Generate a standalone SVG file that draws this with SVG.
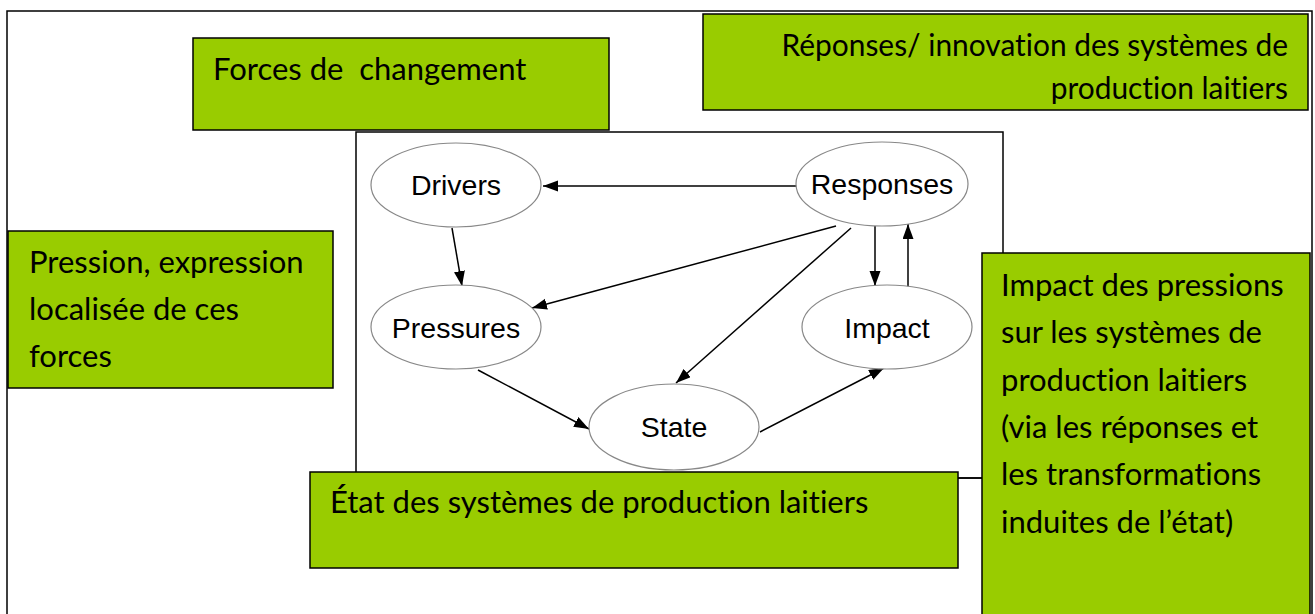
<svg xmlns="http://www.w3.org/2000/svg" width="1315" height="614" viewBox="0 0 1315 614">
<style>
.frame{fill:none;stroke:#000;stroke-width:1.5}
.box{fill:#99cc00;stroke:#000;stroke-width:1.5}
.ell{fill:#fff;stroke:#888;stroke-width:1.2}
.elabel{font-family:"Liberation Sans",Arial,sans-serif;font-size:28.5px;fill:#000;text-anchor:middle}
.blabel{font-family:Lato,"Liberation Sans",sans-serif;font-size:31px;fill:#000;white-space:pre;font-variant-ligatures:none;font-feature-settings:"liga" 0,"dlig" 0}
.rlabel{font-family:Lato,"Liberation Sans",sans-serif;font-size:29.9px;fill:#000;text-anchor:end;font-variant-ligatures:none;font-feature-settings:"liga" 0,"dlig" 0}
.conn{stroke:#000;stroke-width:1.5;fill:none;marker-end:url(#ah)}
</style>
<defs>
<marker id="ah" markerUnits="userSpaceOnUse" markerWidth="16" markerHeight="12" refX="15" refY="5.5" orient="auto">
<path d="M0,0 L15,5.5 L0,11 Z" fill="#000"/>
</marker>
</defs>
<rect width="1315" height="614" fill="#fff"/>
<g id="outer-frame"><rect class="frame" x="7" y="11" width="1305" height="610"/></g>
<g id="inner-frame"><rect class="frame" x="356" y="132" width="647" height="346"/></g>
<g id="connectors">
<line class="conn" x1="797" y1="186" x2="543" y2="186"/>
<line class="conn" x1="452" y1="228" x2="462" y2="286"/>
<line class="conn" x1="836" y1="226" x2="532" y2="308"/>
<line class="conn" x1="851" y1="228" x2="676" y2="383"/>
<line class="conn" x1="875" y1="226" x2="875" y2="286"/>
<line class="conn" x1="908" y1="288" x2="908" y2="224"/>
<line class="conn" x1="478" y1="370" x2="589" y2="429"/>
<line class="conn" x1="760" y1="432" x2="884" y2="368"/>
</g>
<g id="drivers"><ellipse class="ell" cx="456" cy="185" rx="85" ry="42"/><text class="elabel" x="456" y="195">Drivers</text></g>
<g id="responses"><ellipse class="ell" cx="882" cy="184" rx="86" ry="42"/><text class="elabel" x="882" y="194">Responses</text></g>
<g id="pressures"><ellipse class="ell" cx="456" cy="327" rx="85" ry="42"/><text class="elabel" x="456" y="338">Pressures</text></g>
<g id="impact"><ellipse class="ell" cx="887" cy="327" rx="85" ry="42"/><text class="elabel" x="887" y="338">Impact</text></g>
<g id="state"><ellipse class="ell" cx="674" cy="427" rx="85" ry="43"/><text class="elabel" x="674" y="437">State</text></g>
<g id="forces-box"><rect class="box" x="193" y="38" width="416" height="92"/><text class="blabel" x="213" y="80">Forces de  changement</text></g>
<g id="reponses-box"><rect class="box" x="703" y="14" width="605" height="96"/>
<text class="rlabel" x="1288" y="56">Réponses/ innovation des systèmes de</text>
<text class="rlabel" x="1288" y="99">production laitiers</text></g>
<g id="pression-box"><rect class="box" x="8" y="231" width="325" height="157"/>
<text class="blabel" x="29" y="273">Pression, expression</text>
<text class="blabel" x="29" y="320">localisée de ces</text>
<text class="blabel" x="29" y="367">forces</text></g>
<g id="etat-box"><rect class="box" x="310" y="472" width="648" height="96"/>
<text class="blabel" x="330" y="513">État des systèmes de production laitiers</text></g>
<line x1="958" y1="478" x2="982" y2="478" stroke="#000" stroke-width="1.5"/>
<g id="impact-box"><rect class="box" x="982" y="253" width="328" height="370"/>
<text class="blabel" x="1001" y="296">Impact des pressions</text>
<text class="blabel" x="1001" y="343">sur les systèmes de</text>
<text class="blabel" x="1001" y="391">production laitiers</text>
<text class="blabel" x="1001" y="438">(via les réponses et</text>
<text class="blabel" x="1001" y="485">les transformations</text>
<text class="blabel" x="1001" y="533">induites de l’état)</text></g>
</svg>
